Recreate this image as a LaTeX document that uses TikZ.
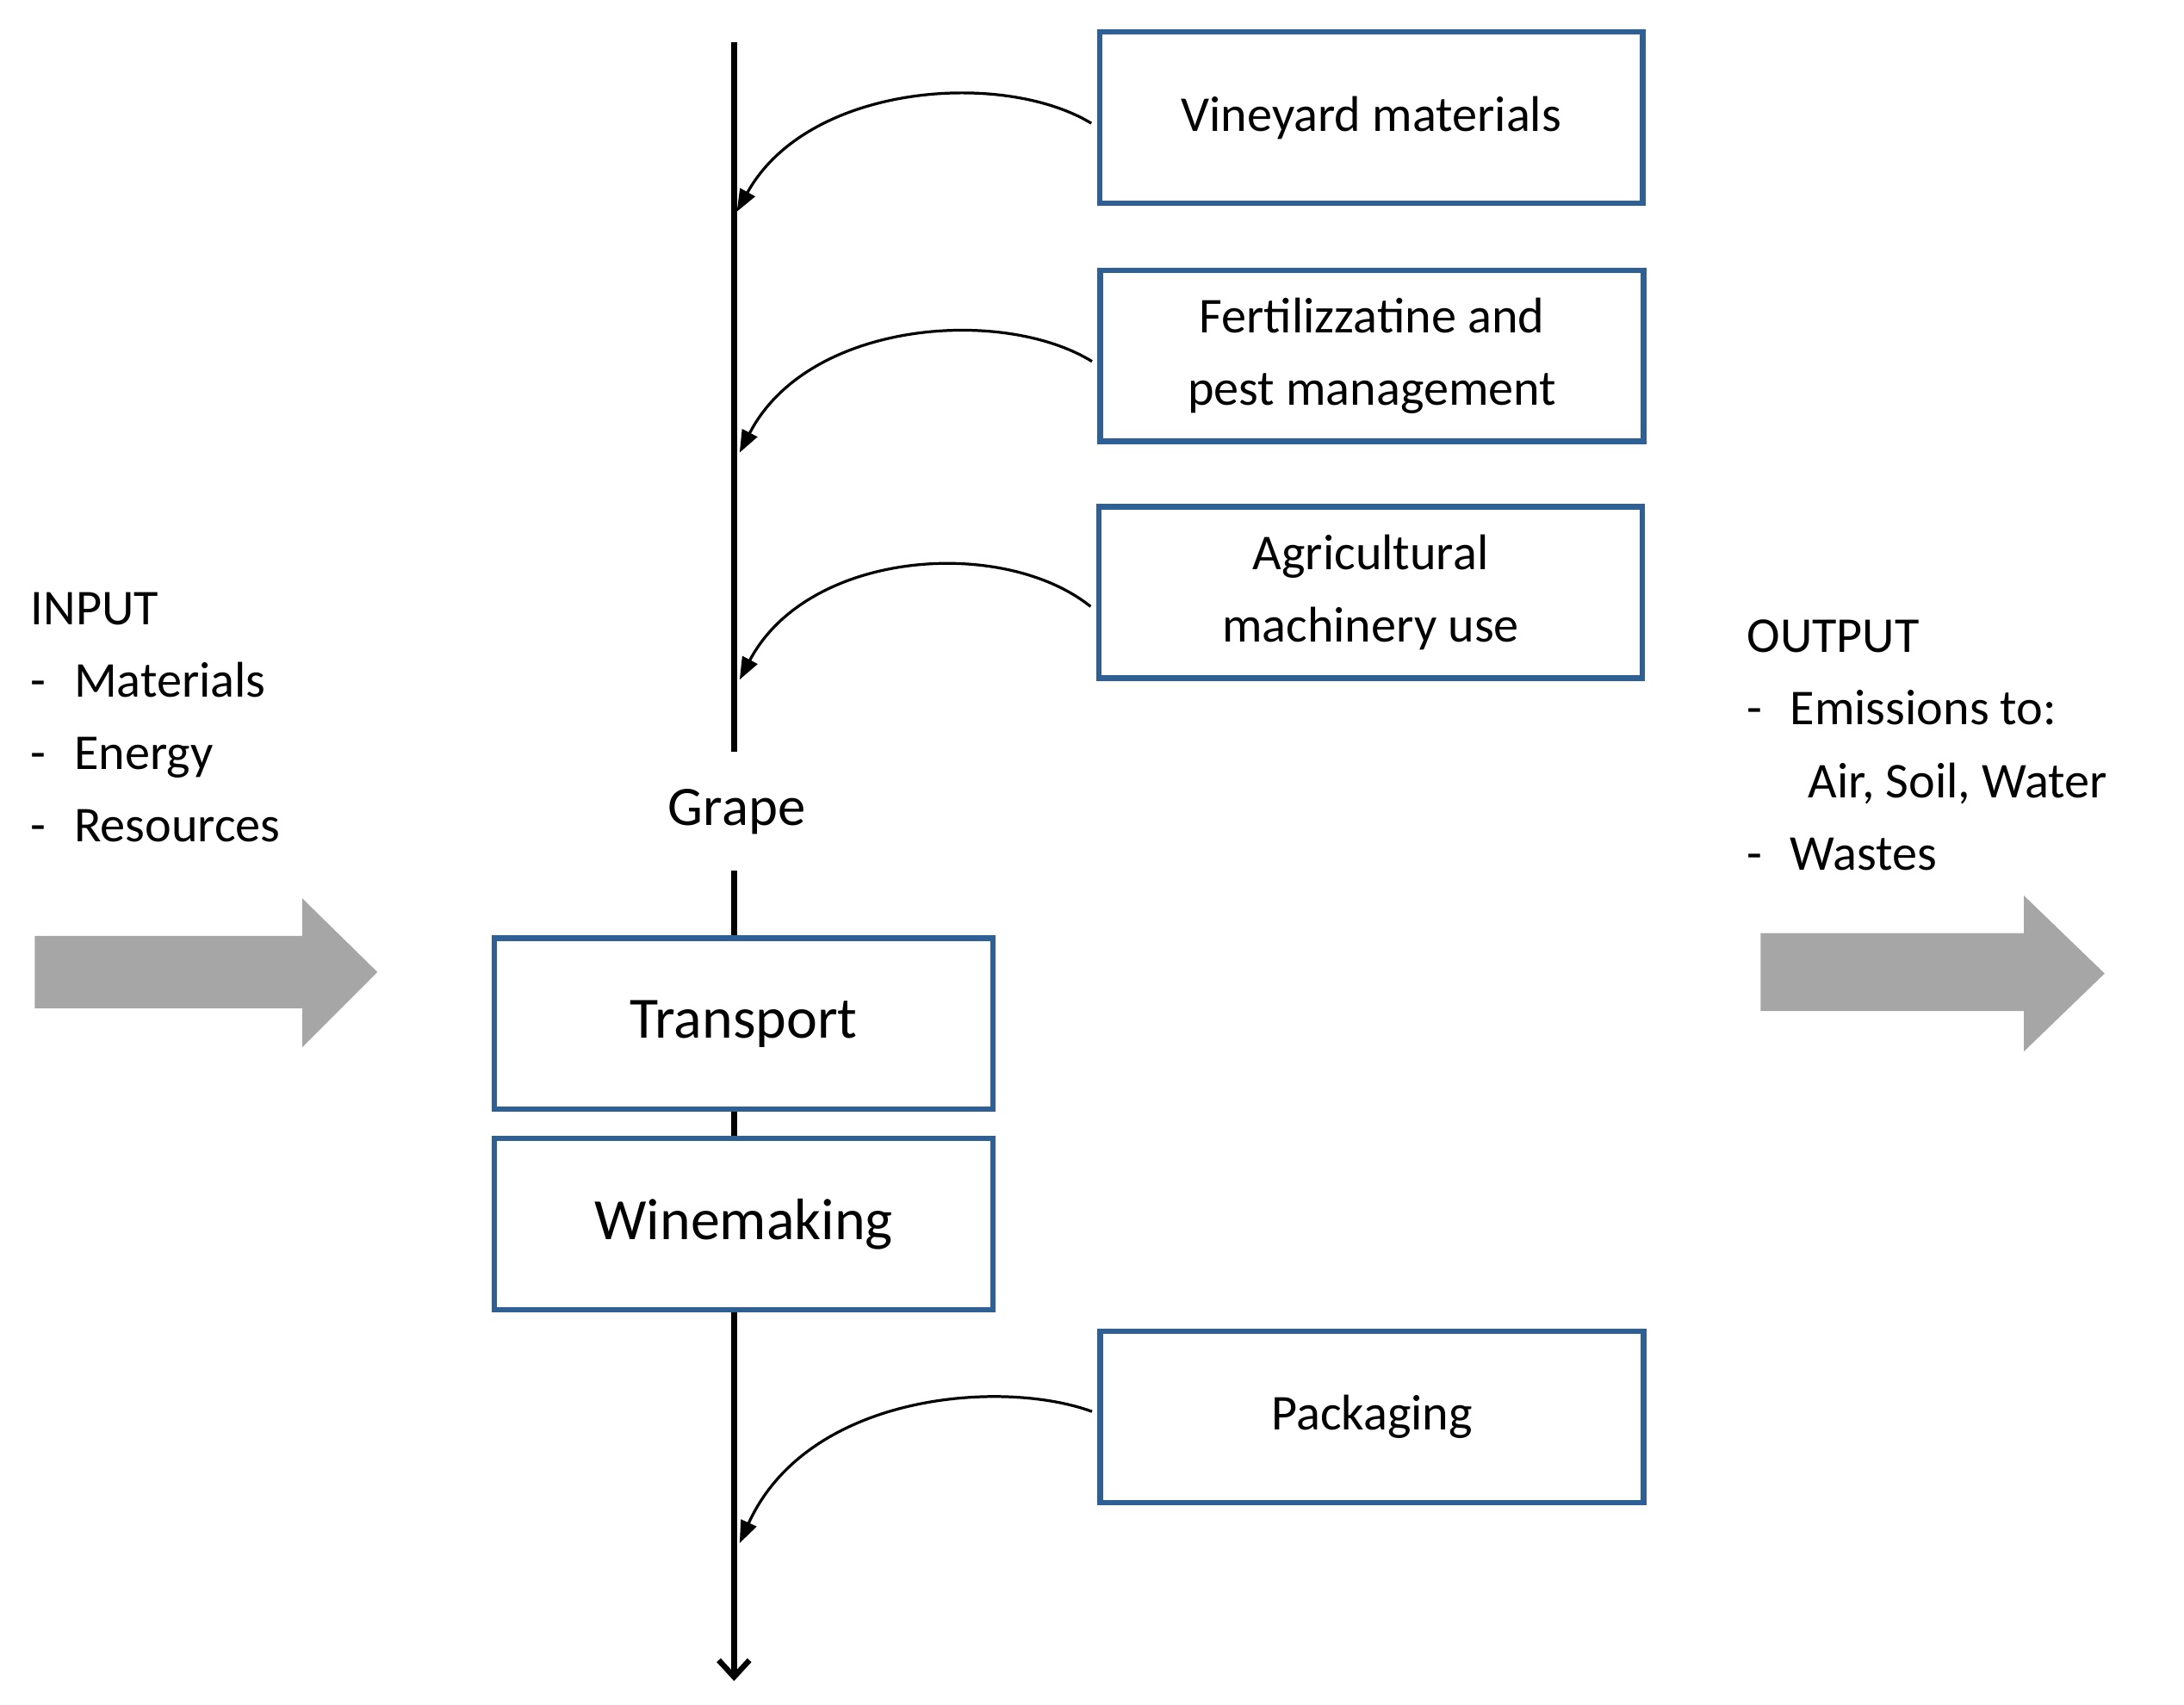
\documentclass[tikz,border=0pt]{standalone}
\usepackage{fontspec}
\setmainfont{Carlito}
\usetikzlibrary{arrows.meta}
\definecolor{bx}{HTML}{2E6096}
\definecolor{gr}{HTML}{A6A6A6}
\begin{document}
\begin{tikzpicture}[x=1pt,y=-1pt,
  box/.style={draw=bx,line width=4pt,minimum width=390pt,minimum height=123pt,align=center,font=\fontsize{36}{52}\selectfont},
  lbl/.style={font=\fontsize{36}{52}\selectfont,align=left,anchor=north west,inner sep=0pt},
  cur/.style={line width=2pt,-{Triangle[length=16pt,width=12pt]}},
  main/.style={line width=4pt}]
\useasboundingbox (0,0) rectangle (1568,1224);
\node[box] (vin) at (984.5,84.5) {Vineyard materials};
\node[box] (fer) at (985,255.5) {Fertilizzatine and\\pest management};
\node[box] (agr) at (984,425.5) {Agricultural\\machinery use};
\node[box] (pac) at (985,1017.5) {Packaging};
\node[box,minimum width=358pt,font=\fontsize{42}{50}\selectfont] (tra) at (534,735) {Transport};
\node[box,minimum width=358pt,font=\fontsize{42}{50}\selectfont] (win) at (534,879) {Winemaking};
\node[font=\fontsize{40}{48}\selectfont] (gra) at (529,583) {Grape};
\coordinate (top) at (527,30);
\coordinate (g1) at (527,540);
\coordinate (g2) at (527,625);
\coordinate (bot) at (527,1207);
\draw[main] (top) -- (g1);
\draw[main] (g2) -- (tra.north -| g2);
\draw[main] (tra.south -| g2) -- (win.north -| g2);
\draw[main,-{Straight Barb[length=12pt,width=22pt]}] (win.south -| g2) -- (bot);
\coordinate (a1) at (529,152);
\coordinate (a2) at (531,325);
\coordinate (a3) at (531,488);
\coordinate (a4) at (531,1108);
\draw[cur] ([xshift=-4pt,yshift=-4pt]vin.west) .. controls (720,50) and (580,60) .. (a1);
\draw[cur] ([xshift=-4pt,yshift=-4pt]fer.west) .. controls (720,220) and (580,230) .. (a2);
\draw[cur] ([xshift=-4pt,yshift=-10pt]agr.west) .. controls (720,385) and (580,395) .. (a3);
\draw[cur] ([xshift=-4pt,yshift=4pt]pac.west) .. controls (720,990) and (580,1000) .. (a4);
\node[lbl] (inp) at (22,425) {INPUT\\-\hspace{20pt}Materials\\-\hspace{20pt}Energy\\-\hspace{20pt}Resources};
\node[lbl] (out) at (1254,445) {OUTPUT\\-\hspace{20pt}Emissions to:\\\hspace{44pt}Air, Soil, Water\\-\hspace{20pt}Wastes};
\fill[gr] (25,672) -- (217,672) -- (217,645) -- (271,698) -- (217,752) -- (217,724) -- (25,724) -- cycle;
\fill[gr] (1264,670) -- (1453,670) -- (1453,643) -- (1511,699) -- (1453,755) -- (1453,726) -- (1264,726) -- cycle;
\end{tikzpicture}
\end{document}
